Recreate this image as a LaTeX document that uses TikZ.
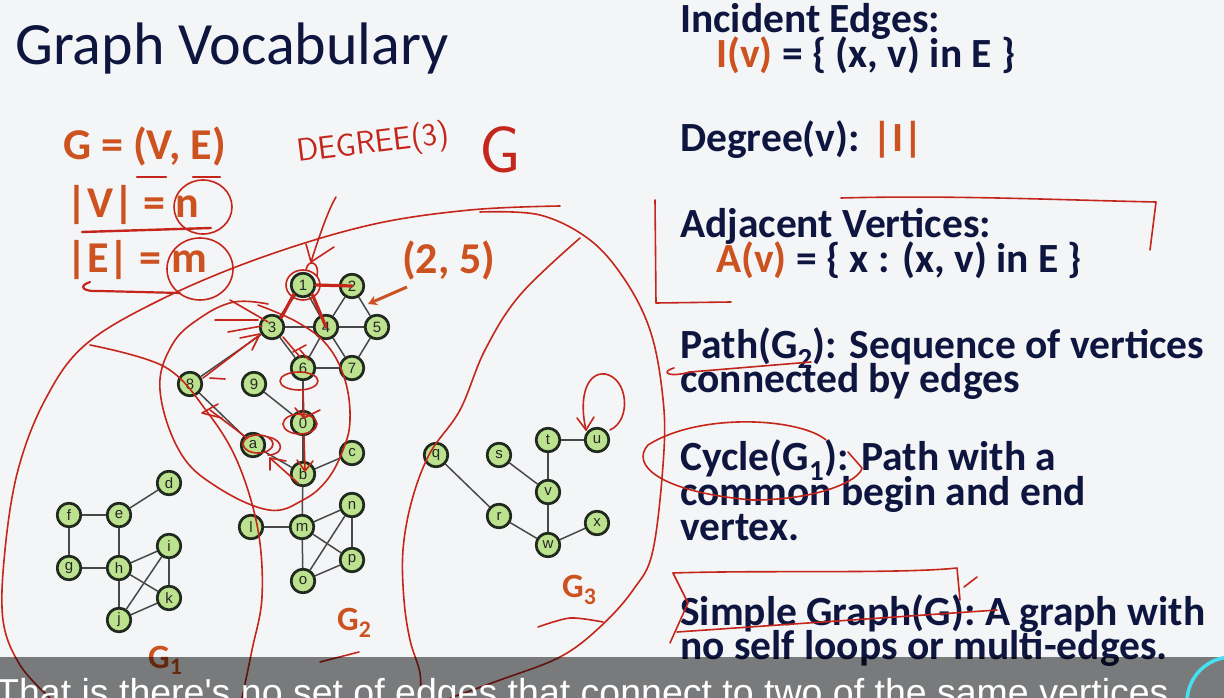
\documentclass[tikz,border=0pt]{standalone}
\usepackage{fontspec}
\setmainfont{Carlito}
\newfontfamily\capfont{Liberation Sans}
\newfontfamily\lblfont{Liberation Sans}
\usetikzlibrary{arrows.meta}
\definecolor{bg}{RGB}{244,245,247}
\definecolor{navy}{RGB}{14,22,64}
\definecolor{orng}{RGB}{204,82,32}
\definecolor{pen}{RGB}{196,38,28}
\definecolor{nfill}{RGB}{188,226,143}
\definecolor{nedge}{RGB}{32,42,30}
\definecolor{egray}{RGB}{72,72,72}
\definecolor{cyanring}{RGB}{70,225,240}
\tikzset{
  vtx/.style={circle, draw=nedge, line width=2.6pt, fill=nfill, minimum size=23.5pt, inner sep=0pt,
    font=\lblfont\fontsize{15}{15}\selectfont, text=black!85},
  edg/.style={draw=egray, line width=1.5pt},
  ink/.style={draw=pen, line width=1.6pt, line cap=round, line join=round},
  inkthick/.style={ink, line width=3.2pt},
  slide/.style={anchor=base west, inner sep=0pt, text=navy, font=\fontsize{41.5}{41.5}\selectfont\bfseries},
  otext/.style={anchor=base west, inner sep=0pt, text=orng, font=\fontsize{44}{44}\selectfont\bfseries},
  glabel/.style={anchor=base west, inner sep=0pt, text=orng, font=\fontsize{34}{34}\selectfont\bfseries},
  hand/.style={inner sep=0pt, text=pen, font=\sffamily\fontsize{32}{32}\selectfont}
}
\begin{document}
\begin{tikzpicture}[x=1pt,y=-1pt]
\useasboundingbox (0,0) rectangle (1224,698);
\fill[bg] (0,0) rectangle (1224,698);

% ---------- slide text ----------
\node[anchor=base west, inner sep=0pt, text=navy, font=\fontsize{60}{60}\selectfont] (title) at (15,65) {Graph Vocabulary};

\node[slide] (ie) at (680,33) {Incident Edges:};
\node[slide] (iv) at (716,68) {\textcolor{orng}{I(v)} = \{ (x, v) in E \}};
\node[slide] (deg) at (680,152) {Degree(v): \textcolor{orng}{|I|}};
\node[slide] (adj) at (680,237) {Adjacent Vertices:};
\node[slide] (av) at (716,272) {\textcolor{orng}{A(v)} = \{ x : (x, v) in E \}};
\node[slide] (pa1) at (680,358) {Path(G\textsubscript{2}): Sequence of vertices};
\node[slide] (pa2) at (680,392) {connected by edges};
\node[slide] (cy1) at (680,470) {Cycle(G\textsubscript{1}): Path with a};
\node[slide] (cy2) at (680,505) {common begin and end};
\node[slide] (cy3) at (680,540) {vertex.};
\node[slide] (sg1) at (680,625) {Simple Graph(G): A graph with};
\node[slide] (sg2) at (680,659) {no self loops or multi-edges.};

\node[otext] (gve) at (63,160) {G = (V, E)};
\node[otext] (vn) at (66,217) {|V| = n};
\node[otext] (em) at (66,272) {|E| = m};
\node[otext] (p25) at (402,273) {(2, 5)};

\node[glabel] (g1) at (148,668) {G\textsubscript{1}};
\node[glabel] (g2) at (337,630) {G\textsubscript{2}};
\node[glabel] (g3) at (562,597) {G\textsubscript{3}};

% ---------- graph vertices ----------
\node[vtx] (n1) at (303,285) {1};
\node[vtx] (n2) at (352,286) {2};
\node[vtx] (n3) at (272,327) {3};
\node[vtx] (n4) at (326,327) {4};
\node[vtx] (n5) at (377,327) {5};
\node[vtx] (n6) at (303,368) {6};
\node[vtx] (n7) at (352,368) {7};
\node[vtx] (n8) at (190,384) {8};
\node[vtx] (n9) at (254,384) {9};
\node[vtx] (n0) at (303,423) {0};
\node[vtx] (na) at (253,445) {a};
\node[vtx] (nb) at (303,474) {b};
\node[vtx] (nc) at (352,453) {c};
\node[vtx] (nd) at (169,483) {d};
\node[vtx] (ne) at (119,515) {e};
\node[vtx] (nf) at (69,515) {f};
\node[vtx] (ng) at (69,568) {g};
\node[vtx] (nh) at (119,568) {h};
\node[vtx] (ni) at (169,546) {i};
\node[vtx] (nj) at (119,620) {j};
\node[vtx] (nk) at (169,598) {k};
\node[vtx] (nl) at (251,527) {l};
\node[vtx] (nm) at (302,527) {m};
\node[vtx] (nn) at (352,505) {n};
\node[vtx] (no) at (303,581) {o};
\node[vtx] (np) at (352,560) {p};
\node[vtx] (nq) at (436,455) {q};
\node[vtx] (nr) at (499,516) {r};
\node[vtx] (ns) at (499,455) {s};
\node[vtx] (nt) at (548,440) {t};
\node[vtx] (nu) at (597,440) {u};
\node[vtx] (nv) at (548,492) {v};
\node[vtx] (nw) at (548,545) {w};
\node[vtx] (nx) at (597,523) {x};

\foreach \a/\b in {n1/n2,n1/n3,n1/n4,n2/n4,n2/n5,n3/n4,n4/n5,n3/n6,n4/n6,n4/n7,n5/n7,n6/n7,n6/n0,n9/n0,n0/nb,n8/n3,n8/na,na/nb,nb/nc,nb/nm,
  nl/nm,nm/nn,nm/np,nm/no,nn/np,nn/no,no/np,
  nf/ne,ne/nd,nf/ng,ne/nh,ng/nh,nh/ni,nh/nk,nh/nj,ni/nk,ni/nj,nj/nk,
  nq/nr,nr/nw,ns/nv,nt/nv,nt/nu,nv/nw,nw/nx}
  \draw[edg] (\a) -- (\b);
% vertices again, on top of the edges
\foreach \t/\x/\y in {1/303/285,2/352/286,3/272/327,4/326/327,5/377/327,6/303/368,7/352/368,
  8/190/384,9/254/384,0/303/423,a/253/445,b/303/474,c/352/453,d/169/483,e/119/515,
  f/69/515,g/69/568,h/119/568,i/169/546,j/119/620,k/169/598,l/251/527,m/302/527,
  n/352/505,o/303/581,p/352/560,q/436/455,r/499/516,s/499/455,t/548/440,u/597/440,
  v/548/492,w/548/545,x/597/523}
  \node[vtx] at (\x,\y) {\t};

% ---------- handwriting ----------
\node[hand, anchor=base west, rotate=7] (degr) at (298,162) {DEGREE(3)};
\node[hand, font=\sffamily\fontsize{66}{66}\selectfont] (hg) at (500,150) {G};

% big enclosures
\draw[ink] plot[smooth, tension=0.6] coordinates {(560,206) (470,210) (370,225) (260,258) (160,300) (85,345) (45,400) (18,470) (5,550) (3,620) (20,665) (50,698)};
\draw[ink] plot[smooth, tension=0.6] coordinates {(90,345) (165,367) (208,413) (238,463) (258,530) (262,597) (252,650) (242,698)};
\draw[ink] plot[smooth, tension=0.6] coordinates {(480,212) (540,215) (590,240) (625,280) (650,330) (662,390) (664,450) (653,550) (633,590) (600,627) (560,657) (500,680) (450,698)};
\draw[ink] plot[smooth, tension=0.6] coordinates {(580,238) (520,295) (485,350) (460,410) (430,453) (412,500) (403,550) (404,600) (410,640) (420,673) (420,698)};
\draw[ink] plot[smooth] coordinates {(538,627) (570,618) (603,622)};
\draw[ink] (320,662) -- (359,652);

% path loop
\draw[ink] plot[smooth, tension=0.65] coordinates {(258,305) (297,322) (327,345) (345,380) (350,420) (343,450) (327,480) (303,500) (269,510) (217,487) (180,452) (160,390) (172,345) (200,318) (234,302) (268,304)};

% thick strokes on edges of vertex 1
\draw[inkthick] (n1.east) -- (n2.center);
\draw[inkthick] (n1.south west) -- (n3.north east);
\draw[inkthick] (n1.south east) -- (n4.center);
\draw[ink] (303,285) circle[x radius=17pt, y radius=15pt];
\draw[ink] (306,270) .. controls (308,258) and (320,262) .. (317,276);

% degree arrow
\coordinate (dtip) at (311,262);
\draw[ink] (336,197) .. controls (328,210) and (318,240) .. (dtip);
\draw[ink] (306,244) -- (dtip) -- (334,247);

% (2,5) arrow
\draw[draw=orng, line width=3pt, -{Stealth[length=9pt,width=10pt]}] (407,287) -- (368,304);

% arrows of the path
\draw[ink] (203,378) -- (258,336);
\draw[ink] (240,338) -- (260,334) -- (252,350);
\draw[ink] (210,378) -- (225,379);
\draw[ink] (230,300) -- (268,322);
\draw[ink] (228,332) -- (262,326);
\draw[ink] (215,320) -- (258,320);
\draw[ink] (283,337) -- (300,357);
\draw[ink] (293,352) -- (306,345);
\draw[ink] (300,350) -- (309,360);
\draw[ink] (299,381) ellipse[x radius=19pt, y radius=9pt];
\draw[ink] (303,390) -- (304,418);
\draw[ink] (295,408) -- (304,418) -- (320,410);
\draw[ink] (300,424) ellipse[x radius=17pt, y radius=10pt];
\draw[ink] (304,436) -- (305,470);
\draw[ink] (297,460) -- (305,471) -- (313,461);
\draw[ink] (298,483) -- (270,458);
\draw[ink] (270,470) -- (270,458) -- (286,461);
\draw[ink] (258,444) ellipse[x radius=15pt, y radius=9pt];
\draw[ink] (268,437) .. controls (285,440) and (284,455) .. (268,455);
\draw[ink] (247,438) -- (210,410);
\draw[ink] (218,404) -- (202,413) -- (222,418);

% self loop on u
\draw[ink] (610,430) .. controls (632,420) and (628,378) .. (605,374) .. controls (588,372) and (578,395) .. (586,430);
\draw[ink] (577,418) -- (586,430) -- (594,417);

% top-left marks
\draw[ink] (203,207) ellipse[x radius=29pt, y radius=27pt];
\draw[ink] (200,269) ellipse[x radius=33pt, y radius=31pt];
\draw[ink, line width=2.4pt] (82,232) -- (211,228);
\draw[ink, line width=2.2pt] (90,282) .. controls (78,286) and (82,292) .. (100,291) -- (180,293);
\draw[ink, line width=2.2pt] (137,177) -- (166,177);
\draw[ink, line width=2.2pt] (193,177) -- (220,177);

% right side marks
\draw[ink] (655,200) -- (656,303) -- (731,302);
\draw[ink] (841,198) .. controls (950,195) and (1060,200) .. (1156,202) -- (1150,250);
\draw[ink] (674,368) .. controls (660,372) and (668,378) .. (690,372) -- (811,362);
\draw[ink] (826,440) .. controls (800,418) and (700,412) .. (648,445) .. controls (630,465) and (660,492) .. (752,500) .. controls (820,500) and (860,480) .. (862,468) -- (848,452);
\draw[ink] (673,573) .. controls (760,570) and (900,574) .. (957,568) -- (960,600);
\draw[ink] (673,573) -- (688,603) -- (670,643);
\draw[ink] (677,632) -- (997,610);
\draw[ink] (964,587) -- (977,577);

% ---------- caption bar ----------
\fill[black, opacity=0.5] (0,657) rectangle (1224,698);
\begin{scope}
\clip (0,0) rectangle (1224,698);
\node[anchor=base west, inner sep=0pt, text=white, font=\capfont\fontsize{37.5}{37.5}\selectfont] (cap) at (-4,705) {That is there's no set of edges that connect to two of the same vertices};
\draw[draw=cyanring, line width=3.5pt] (1232,702) circle[radius=45pt];
\end{scope}
\end{tikzpicture}
\end{document}
